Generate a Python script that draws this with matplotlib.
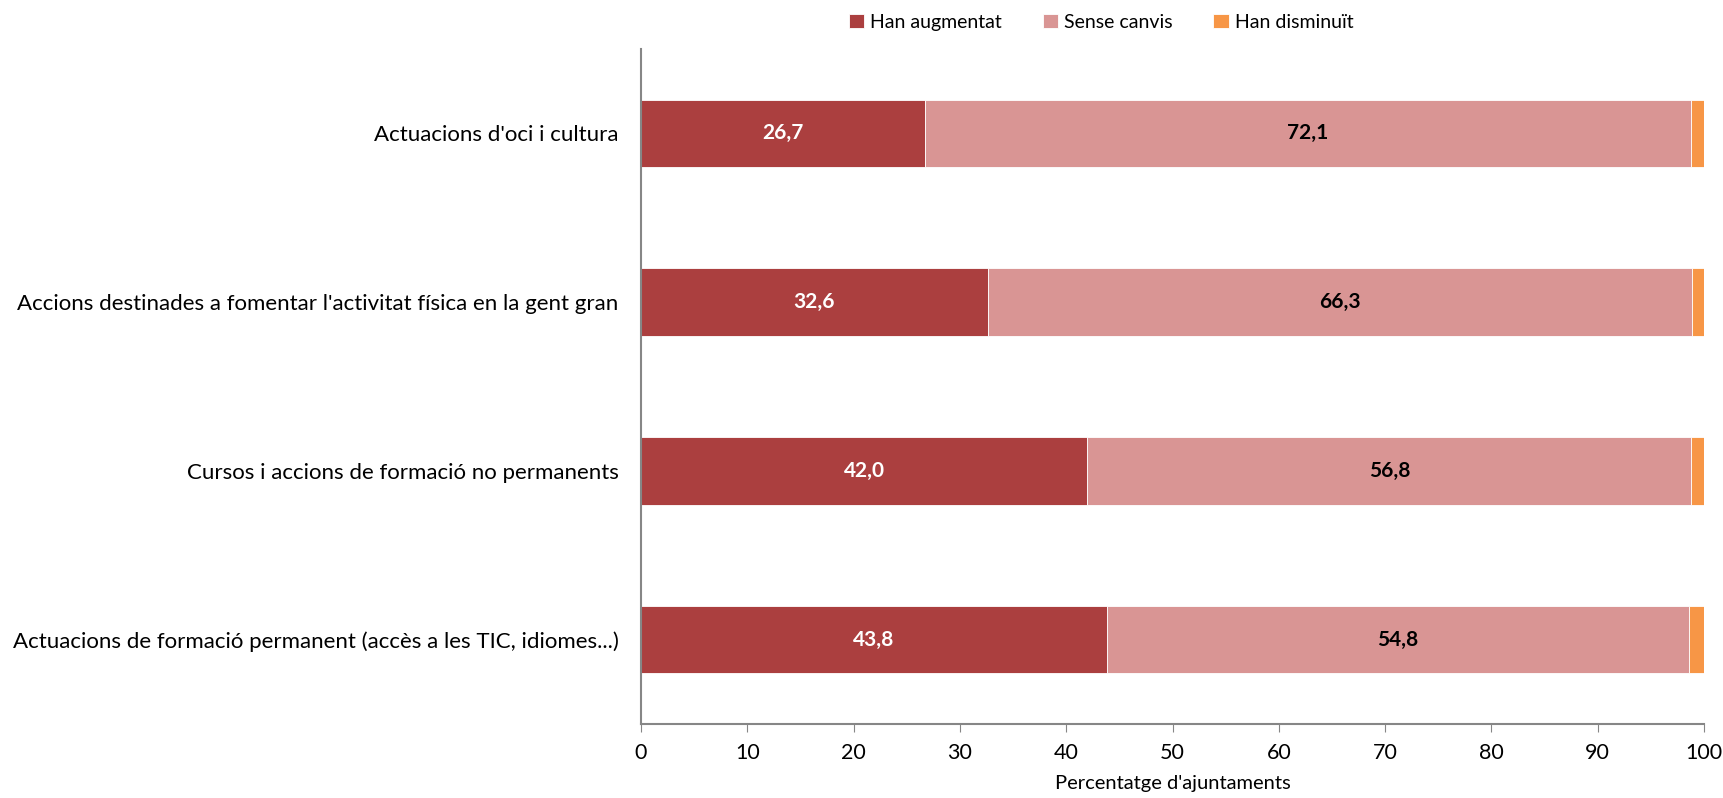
import matplotlib.pyplot as plt
import numpy as np

plt.rcParams['font.family'] = ['Lato', 'DejaVu Sans']

categories = [
    "Actuacions d'oci i cultura",
    "Accions destinades a fomentar l'activitat física en la gent gran",
    "Cursos i accions de formació no permanents",
    "Actuacions de formació permanent (accès a les TIC, idiomes...)",
]
augmentat = [26.7, 32.6, 42.0, 43.8]
sense_canvis = [72.1, 66.3, 56.8, 54.8]
disminuit = [1.2, 1.1, 1.2, 1.4]

series_names = ["Han augmentat", "Sense canvis", "Han disminuït"]
colors = ["#AB3F3F", "#D99594", "#F79646"]

fig = plt.figure(figsize=(17.23, 7.98), dpi=100)
ax = fig.add_axes([0.372, 0.0927, 0.617, 0.846])

y = np.arange(len(categories))
left = np.zeros(len(categories))
for vals, name, col in zip([augmentat, sense_canvis, disminuit], series_names, colors):
    ax.barh(y, vals, left=left, height=0.4, color=col, label=name,
            edgecolor='white', linewidth=0.6)
    left = left + np.array(vals)

# etiquetes de valor
for i in range(len(categories)):
    ax.text(augmentat[i] / 2, y[i], f"{augmentat[i]:.1f}".replace('.', ','),
            ha='center', va='center', color='white', fontsize=15, fontweight='bold')
    ax.text(augmentat[i] + sense_canvis[i] / 2, y[i], f"{sense_canvis[i]:.1f}".replace('.', ','),
            ha='center', va='center', color='black', fontsize=15, fontweight='bold')

ax.set_ylim(len(categories) - 0.5, -0.5)
ax.set_xlim(0, 100)
ax.set_xticks(np.arange(0, 101, 10))
ax.set_yticks(y)
ax.set_yticklabels(categories, fontsize=16)
ax.tick_params(axis='y', length=0, pad=16)
ax.tick_params(axis='x', labelsize=15.5, length=6, color='#868686', pad=8)
ax.set_xlabel("Percentatge d'ajuntaments", fontsize=14.5, labelpad=8)

for s in ['top', 'right']:
    ax.spines[s].set_visible(False)
for s in ['left', 'bottom']:
    ax.spines[s].set_color('#868686')
    ax.spines[s].set_linewidth(1.5)

fig.legend(loc='upper center', bbox_to_anchor=(0.639, 1.005), ncol=3, frameon=False,
           fontsize=14, handlelength=0.8, handleheight=0.8, columnspacing=2.1, handletextpad=0.3)

plt.savefig('out.png', dpi=100)
plt.close()
